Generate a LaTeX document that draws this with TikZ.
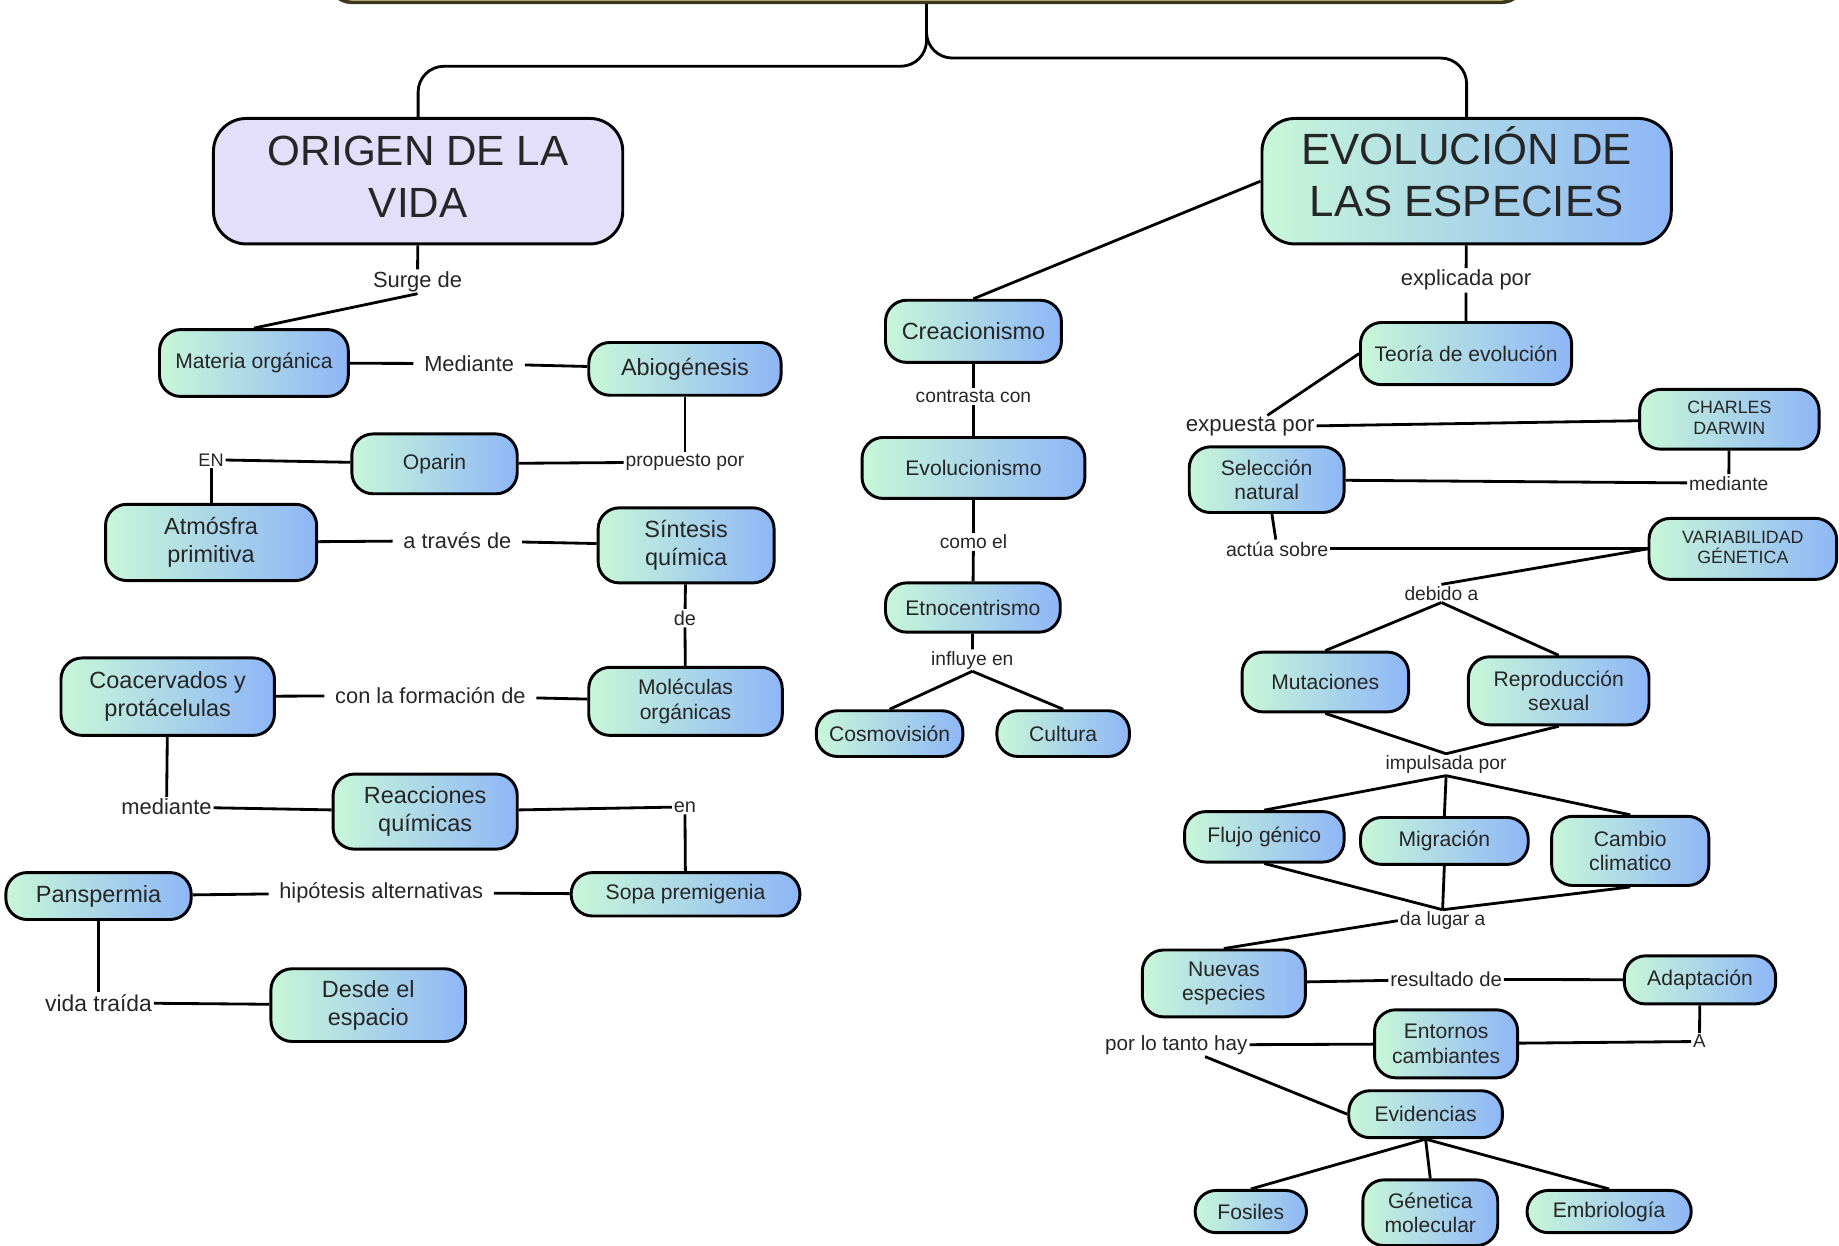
\documentclass[tikz,border=0pt]{standalone}
\usepackage{fontspec}
\setmainfont{Liberation Sans}
\definecolor{gL}{RGB}{200,247,216}
\definecolor{gR}{RGB}{142,182,247}
\definecolor{lav}{RGB}{227,222,250}
\definecolor{txt}{RGB}{38,38,38}
\definecolor{olive}{RGB}{60,55,25}
\definecolor{rootfill}{RGB}{240,232,170}
\tikzset{
  fs/.style 2 args={font=\fontsize{#1}{#2}\selectfont},
  concept/.style={draw=black, line width=2.5pt, rounded corners=18pt, left color=gL, right color=gR, text=txt, align=center, inner sep=2pt},
  big/.style={fs={20}{24}},
  med/.style={fs={18}{21}},
  caps/.style={fs={15.2}{17.5}},
  lbl/.style={text=txt, inner sep=1.5pt, fs={16.4}{19}},
  lblL/.style={text=txt, inner sep=1.5pt, fs={18.7}{22}},
  lblg/.style={text=txt, inner sep=9pt, fs={18.6}{22}},
  conn/.style={draw=black, line width=2.4pt},
  sz/.style 2 args={minimum width=#1pt, minimum height=#2pt}
}
\begin{document}
\begin{tikzpicture}[x=1pt,y=-1pt]
\useasboundingbox (0,0) rectangle (1568,1062);
% root box (cut off)
\node[draw=olive, line width=3pt, fill=rootfill, rounded corners=20pt, sz={1020}{100}] (root) at (790,-48) {};
% titles
\node[draw=black, line width=2.5pt, fill=lav, rounded corners=28pt, sz={349}{107}, text=txt, align=center, fs={36}{44}] (origen) at (356.5,154.5) {ORIGEN DE LA\\VIDA\rule[-8pt]{0pt}{0pt}};
\node[concept, rounded corners=28pt, sz={349}{107}, fs={37.3}{44}] (evol) at (1250.5,154.5) {EVOLUCIÓN DE\\LAS ESPECIES\rule[-16pt]{0pt}{0pt}};
\draw[conn, rounded corners=22pt] (root.south) -- ++(0,53) -| (origen.north);
\draw[conn, rounded corners=22pt] (root.south) -- ++(0,46) -| (evol.north);

% ---------- left: origen de la vida
\node[concept, med, sz={161}{57}] (materia) at (216.5,309.5) {Materia orgánica};
\node[concept, big, sz={164}{45}] (abio) at (584,314.5) {Abiogénesis};
\node[concept, med, sz={141}{51}] (oparin) at (370.5,395.5) {Oparin};
\node[concept, big, sz={180}{65}] (atm) at (180,462.5) {Atmósfra\\primitiva};
\node[concept, big, sz={150}{64}] (sint) at (585,465) {Síntesis\\química};
\node[concept, med, sz={165}{58}] (molec) at (584.5,598) {Moléculas\\orgánicas};
\node[concept, big, sz={182}{66}] (coac) at (143,594) {Coacervados y\\protácelulas};
\node[concept, big, sz={157}{64}] (reac) at (362.5,692) {Reacciones\\químicas};
\node[concept, med, sz={195}{37}] (sopa) at (584.5,762.5) {Sopa premigenia};
\node[concept, big, sz={158}{40}] (pans) at (84,764) {Panspermia};
\node[concept, big, sz={166}{62}] (desde) at (314,857) {Desde el\\espacio};

\node[lblL] (surge) at (356,240) {Surge de};
\node[lblg] (mediante1) at (400,310) {Mediante};
\node[lbl] (propuesto) at (584,394) {propuesto por};
\node[lbl, fs={15.5}{18}] (en1) at (180,392) {EN};
\node[lblg] (traves) at (390,461) {a través de};
\node[lbl, fs={17}{20}] (de) at (584,527) {de};
\node[lblg] (conla) at (367,593) {con la formación de};
\node[lblL] (med1) at (142,688) {mediante};
\node[lbl, fs={17}{20}] (en2) at (584,688) {en};
\node[lblg] (hipot) at (325,761) {hipótesis alternativas};
\node[lbl, fs={19.5}{22}] (vida) at (84,855) {vida traída};

\draw[conn] (origen) -- (surge);
\draw[conn] (surge.south) -- (materia.north);
\draw[conn] (materia) -- (mediante1) -- (abio);
\draw[conn] (abio) -- (propuesto);
\draw[conn] (propuesto) -- (oparin);
\draw[conn] (oparin) -- (en1);
\draw[conn] (en1) -- (atm);
\draw[conn] (atm) -- (traves) -- (sint);
\draw[conn] (sint) -- (de) -- (molec);
\draw[conn] (coac) -- (conla) -- (molec);
\draw[conn] (coac) -- (med1);
\draw[conn] (med1) -- (reac);
\draw[conn] (reac) -- (en2);
\draw[conn] (en2) -- (sopa);
\draw[conn] (pans) -- (hipot) -- (sopa);
\draw[conn] (pans) -- (vida);
\draw[conn] (vida) -- (desde);

% ---------- middle
\node[concept, big, sz={150}{53}] (creac) at (830,282.5) {Creacionismo};
\node[concept, med, sz={190}{52}] (evolu) at (830,399) {Evolucionismo};
\node[concept, med, sz={149}{42}] (etno) at (829.5,518) {Etnocentrismo};
\node[concept, med, sz={125}{39}] (cosmo) at (758.5,625.5) {Cosmovisión};
\node[concept, med, sz={113}{39}] (cultura) at (906.5,625.5) {Cultura};
\node[lbl] (contrasta) at (830,338) {contrasta con};
\node[lbl] (comoel) at (830,462) {como el};
\node[lbl] (influye) at (829,563) {influye en};

\draw[conn] (evol.west) -- (creac.north);
\draw[conn] (creac) -- (contrasta) -- (evolu);
\draw[conn] (evolu) -- (comoel) -- (etno);
\draw[conn] (etno) -- (influye);
\draw[conn] (influye.south) -- (cosmo.north);
\draw[conn] (influye.south) -- (cultura.north);

% ---------- right
\node[concept, med, sz={180}{53}] (teoria) at (1250,301.5) {Teoría de evolución};
\node[concept, caps, sz={153}{51}] (darwin) at (1474.5,357.5) {CHARLES\\DARWIN\rule[-3pt]{0pt}{0pt}};
\node[concept, med, sz={132}{56}] (selec) at (1080,409) {Selección\\natural};
\node[concept, caps, sz={160}{52}] (var) at (1486,468) {VARIABILIDAD\\GÉNETICA\rule[-3pt]{0pt}{0pt}};
\node[concept, med, sz={142}{51}] (mut) at (1130,581.5) {Mutaciones};
\node[concept, med, sz={154}{58}] (repro) at (1329,589) {Reproducción\\sexual};
\node[concept, med, sz={136}{43}] (flujo) at (1078,713.5) {Flujo génico};
\node[concept, med, sz={143}{40}] (migr) at (1231.5,717) {Migración};
\node[concept, med, sz={134}{59}] (cambio) at (1390,725.5) {Cambio\\climatico};
\node[concept, med, sz={139}{57}] (nuevas) at (1043.5,838.5) {Nuevas\\especies};
\node[concept, med, sz={129}{41}] (adapt) at (1449.5,835.5) {Adaptación};
\node[concept, med, sz={122}{58}] (entornos) at (1233,890) {Entornos\\cambiantes};
\node[concept, med, sz={131}{40}] (evid) at (1215.5,950) {Evidencias};
\node[concept, med, sz={95}{36}] (fosiles) at (1066.5,1033) {Fosiles};
\node[concept, med, sz={115}{56}] (genet) at (1219.5,1034) {Génetica\\molecular};
\node[concept, med, sz={140}{36}] (embrio) at (1372,1033) {Embriología};

\node[lblL] (explicada) at (1250,239) {explicada por};
\node[lbl, fs={19}{22}] (expuesta) at (1066,364) {expuesta por};
\node[lbl] (med2) at (1474,412) {mediante};
\node[lbl, fs={16.7}{19}] (actua) at (1089,468) {actúa sobre};
\node[lbl] (debido) at (1229,506) {debido a};
\node[lbl] (impulsada) at (1233,652) {impulsada por};
\node[lbl] (dalugar) at (1230,785) {da lugar a};
\node[lbl, fs={17.3}{20}] (resultado) at (1233,835) {resultado de};
\node[lbl, fs={16}{19}] (A) at (1449,888) {A};
\node[lbl, fs={17.6}{20}] (portanto) at (1003,891) {por lo tanto hay};

\draw[conn] (evol) -- (explicada) -- (teoria);
\draw[conn] (teoria.west) -- (expuesta);
\draw[conn] (expuesta) -- (darwin);
\draw[conn] (darwin) -- (med2);
\draw[conn] (med2) -- (selec);
\draw[conn] (selec) -- (actua);
\draw[conn] (actua) -- (var.west);
\draw[conn] (var.west) -- (debido.north);
\draw[conn] (debido.south) -- (mut.north);
\draw[conn] (debido.south) -- (repro.north);
\draw[conn] (mut.south) -- (impulsada.north);
\draw[conn] (repro.south) -- (impulsada.north);
\draw[conn] (impulsada.south) -- (flujo.north);
\draw[conn] (impulsada.south) -- (migr.north);
\draw[conn] (impulsada.south) -- (cambio.north);
\draw[conn] (flujo.south) -- (dalugar.north);
\draw[conn] (migr.south) -- (dalugar.north);
\draw[conn] (cambio.south) -- (dalugar.north);
\draw[conn] (dalugar.west) -- (nuevas.north);
\draw[conn] (nuevas) -- (resultado) -- (adapt);
\draw[conn] (adapt) -- (A);
\draw[conn] (A) -- (entornos);
\draw[conn] (entornos) -- (portanto);
\draw[conn] (portanto) -- (evid.west);
\draw[conn] (evid.south) -- (fosiles.north);
\draw[conn] (evid.south) -- (genet.north);
\draw[conn] (evid.south) -- (embrio.north);
\end{tikzpicture}
\end{document}
